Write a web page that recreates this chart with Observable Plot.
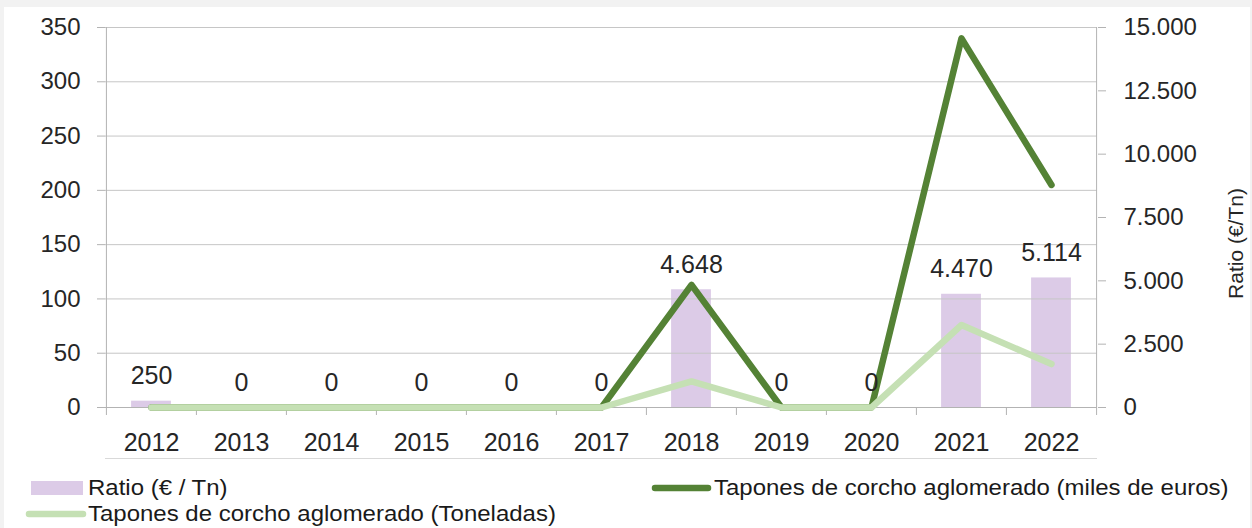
<!DOCTYPE html>
<html><head><meta charset="utf-8">
<script src="https://cdn.jsdelivr.net/npm/d3@7"></script>
<script src="https://cdn.jsdelivr.net/npm/@observablehq/plot@0.6"></script>
<style>
body{margin:0;background:#f2f2f2;font-family:"Liberation Sans",Arial,sans-serif;}
#frame{position:absolute;left:4px;top:7px;width:1246px;height:521px;background:#fff;}
#chart{position:absolute;left:0;top:0;}
.leg{position:absolute;height:24px;font-size:22px;color:#1a1a1a;display:flex;align-items:center;white-space:nowrap;line-height:1;}
.leg svg{display:block;flex:none;}
.leg span{display:inline-block;transform:scaleX(1.09);transform-origin:left center;}
</style></head><body>
<div id="frame"></div><div id="chart"></div><div id="legend"></div>
<script>
// ---- data ----
const years = ["2012","2013","2014","2015","2016","2017","2018","2019","2020","2021","2022"];
const ratio = [250, 0, 0, 0, 0, 0, 4648, 0, 0, 4470, 5114];          // € / Tn (right axis)
const milesEuros = [0, 0, 0, 0, 0, 0, 113, 0, 0, 340, 205];          // miles de euros (left axis)
const toneladas = [0, 0, 0, 0, 0, 0, 24, 0, 0, 76, 40];              // toneladas (left axis)
const leftTicks = [0, 50, 100, 150, 200, 250, 300, 350];
const rightTicks = [0, 2500, 5000, 7500, 10000, 12500, 15000];
const seriesNames = ["Ratio (€ / Tn)", "Tapones de corcho aglomerado (miles de euros)", "Tapones de corcho aglomerado (Toneladas)"];
const rightTitle = "Ratio (€/Tn)";

// ---- build ----
const es = d3.formatLocale({decimal: ",", thousands: ".", grouping: [3], currency: ["", " €"]});
const fmt = es.format(",d");
const k = leftTicks[leftTicks.length - 1] / rightTicks[rightTicks.length - 1];
const data = years.map((year, i) => ({year, ratio: ratio[i], euros: milesEuros[i], tn: toneladas[i]}));

const W = 1252, H = 462, ml = 105, mr = 155, mt = 27, mb = 55;
const bw = (W - ml - mr) / years.length;
const barW = 40;
const txt = "#262626", axisC = "#b3b3b3", gridC = "#c6c6c6";
const cBar = "#dccbe7", cDark = "#548235", cLight = "#c5e0b4";

const chart = Plot.plot({
  width: W, height: H, marginLeft: ml, marginRight: mr, marginTop: mt, marginBottom: mb,
  style: {background: "transparent", fontFamily: "Liberation Sans, Arial, sans-serif", fontSize: "24px", color: txt},
  x: {type: "band", domain: years, padding: 0, axis: null},
  y: {domain: [0, 350], axis: null},
  marks: [
    Plot.barY(data, {x: "year", y: d => d.ratio * k, fill: cBar, insetLeft: (bw - barW) / 2, insetRight: (bw - barW) / 2}),
    Plot.gridY(leftTicks.filter(v => v > 0), {stroke: gridC, strokeOpacity: 1}),
    Plot.ruleY([0], {stroke: axisC}),
    Plot.ruleY([0], {stroke: "#d9d9d9", dy: 51}),
    Plot.ruleX([years[0]], {x: d => d, dx: -bw / 2, stroke: axisC, insetBottom: -8}),
    Plot.ruleX([years[years.length - 1]], {x: d => d, dx: bw / 2, stroke: axisC, insetBottom: -8}),
    Plot.ruleX(years.slice(1), {x: d => d, dx: -bw / 2, y1: 0, y2: 0, insetBottom: -8, stroke: axisC}),
    Plot.axisY(leftTicks, {anchor: "left", tickSize: 8, tickPadding: 17, stroke: axisC, fill: txt, fontSize: 24, label: null, tickFormat: d => fmt(d)}),
    Plot.axisY(rightTicks.map(v => v * k), {anchor: "right", tickSize: 8, tickPadding: 18, stroke: axisC, fill: txt, fontSize: 24, label: null, tickFormat: v => fmt(Math.round(v / k))}),
    Plot.axisX({tickSize: 0, tickPadding: 26, fill: txt, fontSize: 25, label: null}),
    Plot.lineY(data, {x: "year", y: "euros", stroke: cDark, strokeWidth: 6.5, strokeLinecap: "round"}),
    Plot.lineY(data, {x: "year", y: "tn", stroke: cLight, strokeWidth: 6.5, strokeLinecap: "round"}),
    Plot.text(data, {x: "year", y: d => d.ratio * k, text: d => fmt(d.ratio), dy: -25, fontSize: 25, fill: txt}),
    Plot.text([rightTitle], {frameAnchor: "right", textAnchor: "middle", lineAnchor: "middle", rotate: -90, dx: 139, dy: 26, fontSize: 21, fill: txt})
  ]
});
document.getElementById("chart").appendChild(chart);

// ---- legend (HTML, below the svg) ----
const legend = document.getElementById("legend");
function swatchRect(w, h, color) {
  return `<svg width="${w}" height="${h}"><rect width="${w}" height="${h}" fill="${color}"/></svg>`;
}
function swatchLine(w, color) {
  return `<svg width="${w}" height="8"><line x1="4" x2="${w - 4}" y1="4" y2="4" stroke="${color}" stroke-width="6.5" stroke-linecap="round"/></svg>`;
}
const items = [
  {left: 31, cy: 488, sw: swatchRect(52, 14, cBar), gap: 5, label: seriesNames[0]},
  {left: 651, cy: 488, sw: swatchLine(61, cDark), gap: 2, label: seriesNames[1]},
  {left: 25, cy: 514, sw: swatchLine(62, cLight), gap: 1, label: seriesNames[2]}
];
for (const it of items) {
  const d = document.createElement("div");
  d.className = "leg";
  d.style.left = it.left + "px";
  d.style.top = (it.cy - 12) + "px";
  d.innerHTML = it.sw + `<span style="margin-left:${it.gap}px">${it.label}</span>`;
  legend.appendChild(d);
}
</script>
</body></html>
